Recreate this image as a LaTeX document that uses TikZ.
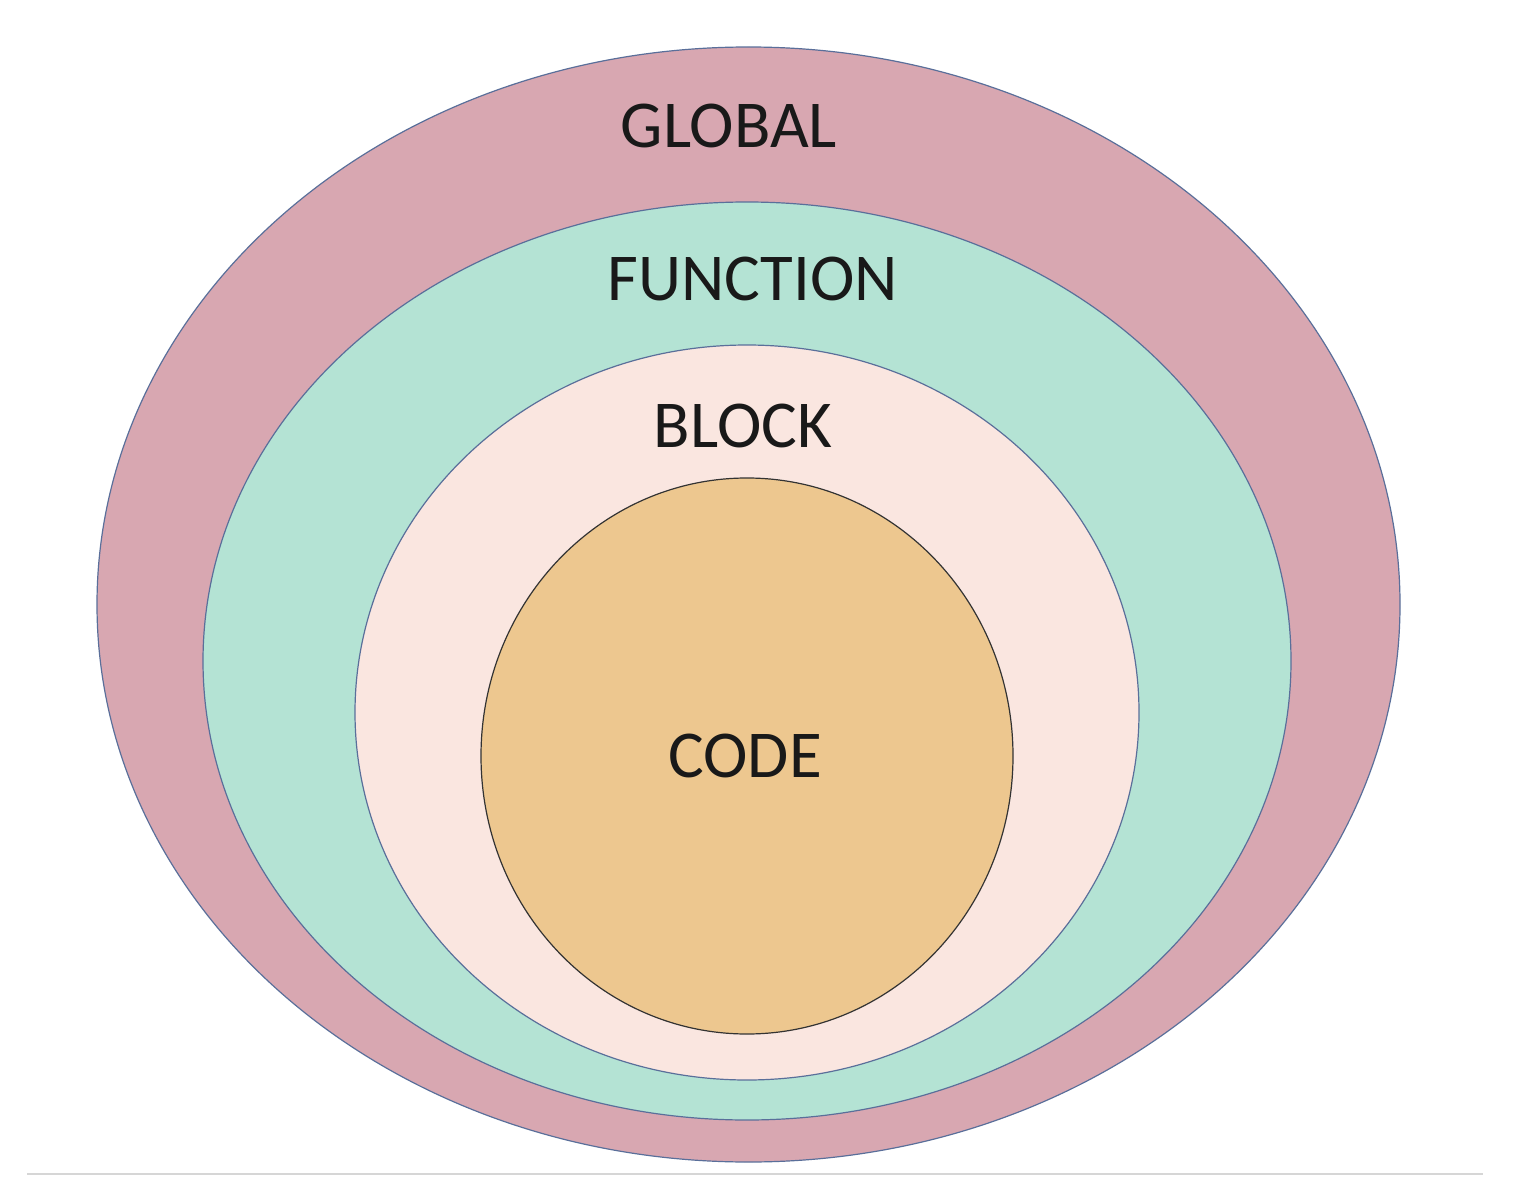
\documentclass[tikz,border=0pt]{standalone}
\usepackage{fontspec}
\setmainfont{Carlito}
\usetikzlibrary{shapes.geometric}
\definecolor{globalc}{HTML}{D8A7B1}
\definecolor{funcc}{HTML}{B4E3D4}
\definecolor{blockc}{HTML}{FAE6E0}
\definecolor{codec}{HTML}{EDC78F}
\definecolor{edgec}{HTML}{5A6F9A}
\definecolor{rulec}{HTML}{D6D6D6}
\tikzset{
  scope/.style={ellipse, inner sep=0pt, draw=edgec, line width=1.2pt},
  lbl/.style={font=\fontsize{67}{80}\selectfont, text=black!90, inner sep=0pt, anchor=base},
}
\begin{document}
\begin{tikzpicture}[x=1pt,y=-1pt]
\useasboundingbox (0,0) rectangle (1520,1190);
\fill[white] (0,0) rectangle (1520,1190);
\node[scope, fill=globalc, minimum width=1303pt, minimum height=1115pt] (global) at (748.5,604.5) {};
\node[scope, fill=funcc, minimum width=1088pt, minimum height=918pt] (function) at (747,661) {};
\node[scope, fill=blockc, minimum width=784pt, minimum height=735pt] (block) at (747,712.5) {};
\node[scope, fill=codec, draw=black!80, minimum width=532pt, minimum height=556pt] (code) at (747,756) {};
\node[lbl] (tglobal) at (729,148) {GLOBAL};
\node[lbl] (tfunction) at (753,301) {FUNCTION};
\node[lbl] (tblock) at (743,447) {BLOCK};
\node[lbl] (tcode) at (745,777) {CODE};
\coordinate (rl) at (27,1174);
\coordinate (rr) at (1483,1174);
\draw[rulec, line width=2.5pt] (rl) -- (rr);
\end{tikzpicture}
\end{document}
